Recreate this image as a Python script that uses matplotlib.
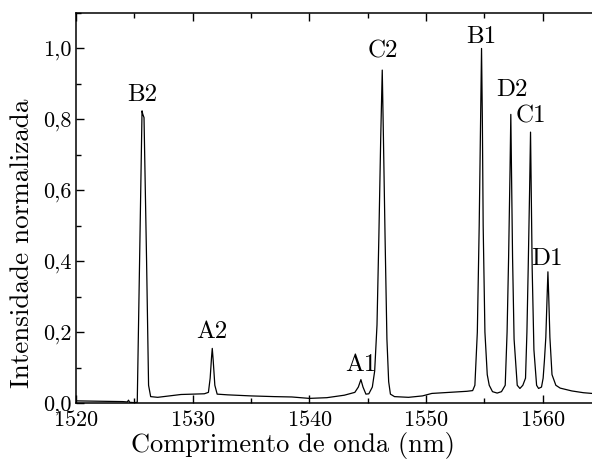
import matplotlib
matplotlib.use("Agg")
import matplotlib.pyplot as plt
from matplotlib.ticker import MultipleLocator, FixedLocator

plt.rcParams['font.family'] = ['cmr10', 'DejaVu Serif']
plt.rcParams['axes.formatter.use_mathtext'] = True

wavelength = [
    1520.0, 1522.0, 1524.0, 1524.4, 1524.5, 1524.6, 1525.0, 1525.25,
    1525.45, 1525.66, 1525.72, 1525.83, 1526.05, 1526.22, 1526.4,
    1527.0, 1528.0, 1529.0, 1530.0, 1531.0, 1531.35,
    1531.5, 1531.62, 1531.68, 1531.76, 1531.9, 1532.1,
    1533.0, 1535.0, 1537.0, 1538.5, 1540.0, 1541.5, 1543.0, 1543.9,
    1544.2, 1544.42, 1544.6, 1544.85, 1545.1,
    1545.4, 1545.6, 1545.8, 1545.96, 1546.12, 1546.25, 1546.35, 1546.49,
    1546.65, 1546.8, 1546.95, 1547.3,
    1548.5, 1549.7, 1550.5, 1552.0, 1553.5, 1554.0,
    1554.19, 1554.4, 1554.56, 1554.68, 1554.76, 1554.83, 1554.90, 1555.05,
    1555.25, 1555.42, 1555.7, 1556.1, 1556.47,
    1556.79, 1556.95, 1557.08, 1557.2, 1557.27, 1557.33, 1557.42, 1557.55,
    1557.82, 1558.05, 1558.3,
    1558.53, 1558.65, 1558.76, 1558.88, 1558.96, 1559.02, 1559.10, 1559.25,
    1559.48, 1559.65, 1559.9,
    1560.04, 1560.15, 1560.27, 1560.38, 1560.45, 1560.52, 1560.62, 1560.8,
    1561.13, 1561.5, 1562.5, 1563.5, 1564.6,
]
intensity = [
    0.006, 0.005, 0.004, 0.003, 0.008, 0.002, 0.001, 0.002,
    0.40, 0.824, 0.815, 0.805, 0.40, 0.05, 0.018,
    0.016, 0.020, 0.024, 0.025, 0.026, 0.030,
    0.07, 0.13, 0.154, 0.12, 0.05, 0.025,
    0.023, 0.020, 0.018, 0.017, 0.013, 0.015, 0.022, 0.030,
    0.045, 0.066, 0.045, 0.025, 0.026,
    0.045, 0.09, 0.22, 0.47, 0.75, 0.939, 0.75, 0.47,
    0.18, 0.06, 0.025, 0.018,
    0.016, 0.020, 0.027, 0.030, 0.033, 0.035,
    0.05, 0.2, 0.5, 0.8, 1.0, 0.8, 0.5, 0.2,
    0.08, 0.05, 0.032, 0.028, 0.032,
    0.05, 0.2, 0.41, 0.65, 0.814, 0.65, 0.41, 0.18,
    0.05, 0.041, 0.05,
    0.07, 0.2, 0.38, 0.6, 0.764, 0.6, 0.38, 0.15,
    0.05, 0.041, 0.045,
    0.07, 0.12, 0.185, 0.3, 0.370, 0.3, 0.185, 0.08,
    0.05, 0.042, 0.034, 0.029, 0.026,
]

peak_labels = ["B2", "A2", "A1", "C2", "B1", "D2", "C1", "D1"]
label_x = [1525.65, 1531.66, 1544.42, 1546.28, 1554.76, 1557.33, 1558.96, 1560.33]
label_y = [0.869, 0.200, 0.107, 0.991, 1.033, 0.883, 0.808, 0.405]

xticks = [1520, 1530, 1540, 1550, 1560]
yticks = [0.0, 0.2, 0.4, 0.6, 0.8, 1.0]
ytick_labels = ["0,0", "0,2", "0,4", "0,6", "0,8", "1,0"]

fig = plt.figure(figsize=(5.92, 4.59), dpi=100)
ax = fig.add_axes([76/592, 56/459, 525/592, 390/459])
ax.plot(wavelength, intensity, color='black', lw=0.9)
ax.set_xlim(1520, 1565)
ax.set_ylim(0, 1.1)

ax.xaxis.set_major_locator(FixedLocator(xticks))
ax.xaxis.set_minor_locator(MultipleLocator(5))
ax.set_yticks(yticks)
ax.set_yticklabels(ytick_labels)
ax.yaxis.set_minor_locator(MultipleLocator(0.1))
ax.tick_params(which='both', direction='in', top=True, right=False, labelsize=16, width=1.0)
ax.tick_params(which='major', length=6)
ax.tick_params(which='minor', length=3.5)
ax.tick_params(axis='x', pad=5)
ax.tick_params(axis='y', pad=3)
for s in ax.spines.values():
    s.set_linewidth(1.1)

for t, x, y in zip(peak_labels, label_x, label_y):
    ax.text(x, y, t, ha='center', va='center', fontsize=18)

ax.set_xlabel("Comprimento de onda (nm)", fontsize=19)
ax.set_ylabel("Intensidade normalizada", fontsize=19.5)
ax.xaxis.set_label_coords(0.413, -0.109, transform=ax.transAxes)
ax.yaxis.set_label_coords(-0.103, 0.409, transform=ax.transAxes)
ax.xaxis.label.set_va('center')
ax.yaxis.label.set_va('center')

fig.savefig("out.png", dpi=100)
